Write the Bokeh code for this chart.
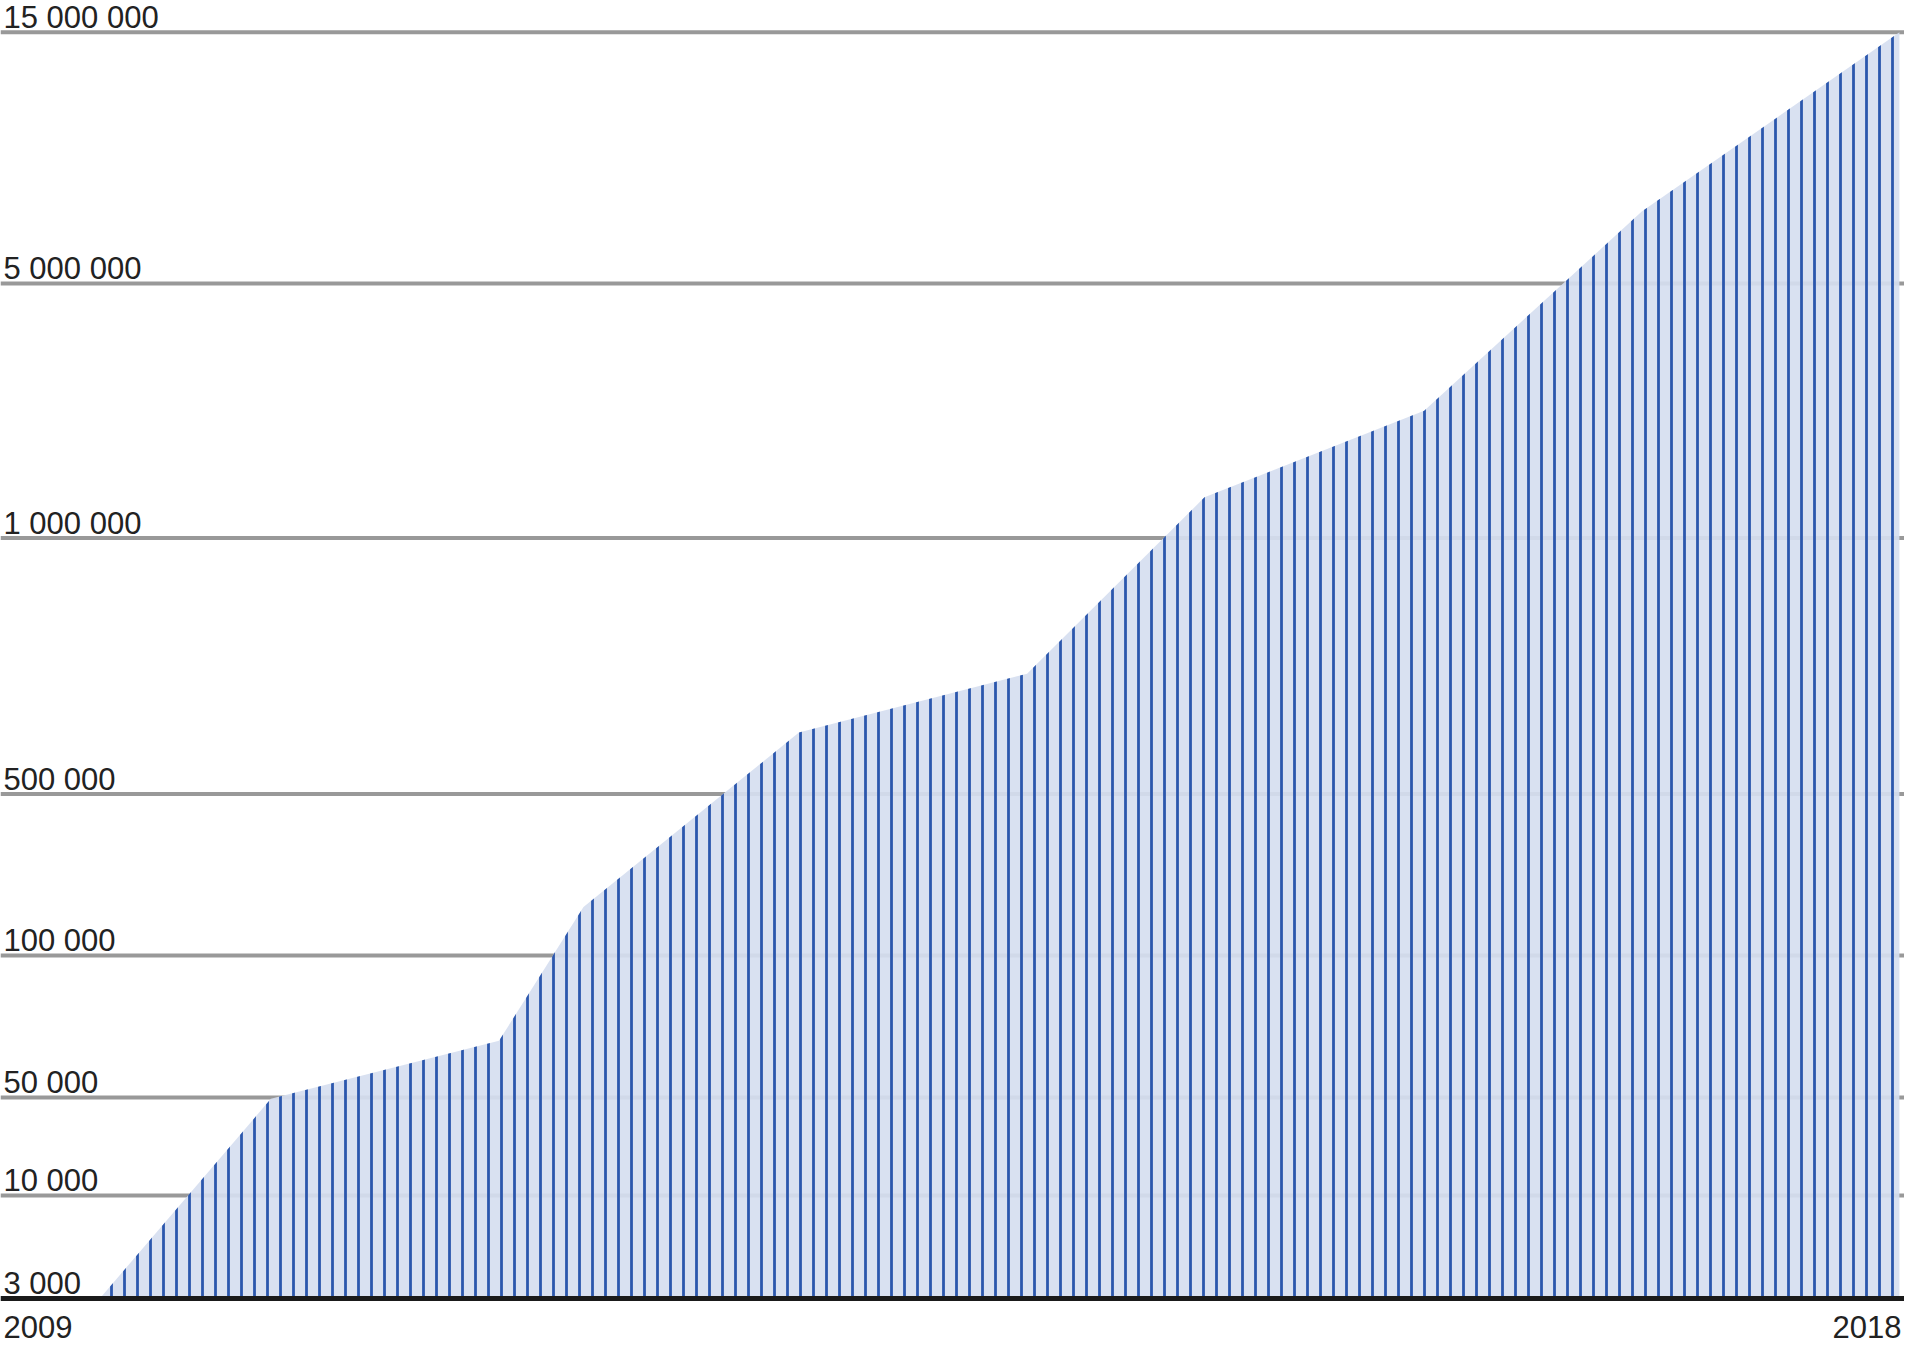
import numpy as np
from bokeh.plotting import figure
from bokeh.models import Range1d, ColumnDataSource
from bokeh.core.properties import value
from bokeh.embed import file_html
from bokeh.resources import INLINE

# ---- data ----
years = [2009.47, 2010.28, 2011.36, 2011.76, 2012.78, 2013.86, 2014.70, 2015.74, 2016.77, 2017.99]
counts = [3000, 49500, 70000, 220000, 620000, 735000, 1640000, 3000000, 7860000, 15000000]

tick_values = [3000, 10000, 50000, 100000, 500000, 1000000, 5000000, 15000000]
tick_labels = ["3 000", "10 000", "50 000", "100 000", "500 000", "1 000 000", "5 000 000", "15 000 000"]
x_labels = ["2009", "2018"]
x_label_years = [2009, 2018]

# ---- the chart's own (non-uniform) vertical scale: height of each tick band ----
scale_heights = [0, 102.9, 200.9, 342.9, 504.5, 760.4, 1015.1, 1266.2]


def to_scale(v):
    return np.interp(v, tick_values, scale_heights)


W, H = 1904, 1345
p = figure(width=W, height=H, output_backend="svg", toolbar_location=None,
           x_range=Range1d(2009, 2018.014), y_range=Range1d(-47, 1298),
           min_border=0, min_border_left=0, min_border_right=0,
           min_border_top=0, min_border_bottom=0)
p.axis.visible = False
p.grid.visible = False
p.outline_line_color = None
p.background_fill_color = "white"
p.border_fill_color = "white"

tick_y = to_scale(tick_values)

# grid lines
n = len(tick_y) - 1
grid_src = ColumnDataSource(dict(x0=[2009] * n, x1=[2018.014] * n, y=tick_y[1:]))
p.segment(x0="x0", x1="x1", y0="y", y1="y", source=grid_src,
          line_color="#999999", line_width=4)

# area
area_src = ColumnDataSource(dict(x=years, y1=[tick_y[0]] * len(years), y2=to_scale(counts)))
p.varea(x="x", y1="y1", y2="y2", source=area_src,
        fill_color="#d6def0", fill_alpha=0.92,
        hatch_pattern="vertical_line", hatch_color="#2b57ad",
        hatch_scale=13, hatch_weight=2.8)

# baseline
p.segment(x0=[2009], x1=[2018.014], y0=[tick_y[0]], y1=[tick_y[0]],
          line_color="#1a1a1a", line_width=5)

FONT = value("Liberation Sans")

# tick labels
lab_src = ColumnDataSource(dict(x=[2009] * len(tick_labels), y=tick_y, t=tick_labels))
p.text(x="x", y="y", text="t", source=lab_src, x_offset=3, y_offset=-15,
       text_align="left", text_baseline="alphabetic",
       text_font=FONT, text_font_size="31px", text_color="#222222")

# year labels
p.text(x=[x_label_years[0]], y=[tick_y[0]], text=[x_labels[0]], x_offset=3, y_offset=28,
       text_align="left", text_baseline="alphabetic",
       text_font=FONT, text_font_size="31px", text_color="#222222")
p.text(x=[x_label_years[1]], y=[tick_y[0]], text=[x_labels[1]], x_offset=0, y_offset=28,
       text_align="right", text_baseline="alphabetic",
       text_font=FONT, text_font_size="31px", text_color="#222222")

open("out.html", "w").write(file_html(p, INLINE))
